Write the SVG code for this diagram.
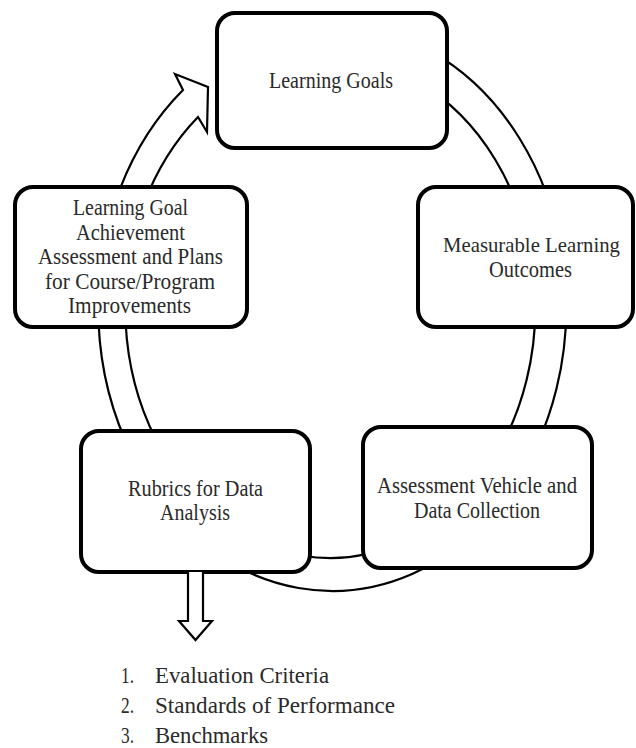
<svg xmlns="http://www.w3.org/2000/svg" width="636" height="748" viewBox="0 0 636 748">
<style>
.box{fill:#fff;stroke:#000;stroke-width:4}
.ring{fill:#fff;stroke:#000;stroke-width:2.2;stroke-linejoin:miter}
.lbl{font-family:"Liberation Serif","Times New Roman",serif;font-size:24px;fill:#2a2a2a}
</style>
<rect width="636" height="748" fill="#fff"/>
<g id="connectors">
<path class="ring" d="M 331 25 A 234 283 0 1 1 183 90 L 175 74 L 208 87 L 207 132 L 198 117 A 205 250 0 1 0 331 58 Z"/>
</g>
<g id="node-learning-goals">
<rect class="box" x="217" y="13" width="230" height="135" rx="18"/>
<text class="lbl" x="269" y="88" textLength="124" lengthAdjust="spacingAndGlyphs">Learning Goals</text>
</g>
<g id="node-measurable-outcomes">
<rect class="box" x="418" y="187" width="215" height="140" rx="18"/>
<text class="lbl" x="443" y="252" style="font-size:22px" textLength="177" lengthAdjust="spacingAndGlyphs">Measurable Learning</text>
<text class="lbl" x="489" y="277" textLength="83" lengthAdjust="spacingAndGlyphs">Outcomes</text>
</g>
<g id="node-assessment-vehicle">
<rect class="box" x="363" y="427" width="229" height="141" rx="18"/>
<text class="lbl" x="377" y="493" textLength="200" lengthAdjust="spacingAndGlyphs">Assessment Vehicle and</text>
<text class="lbl" x="414" y="518" textLength="126" lengthAdjust="spacingAndGlyphs">Data Collection</text>
</g>
<g id="node-rubrics">
<rect class="box" x="81" y="431" width="229" height="141" rx="18"/>
<text class="lbl" x="128" y="496" textLength="135" lengthAdjust="spacingAndGlyphs">Rubrics for Data</text>
<text class="lbl" x="160" y="520" textLength="70" lengthAdjust="spacingAndGlyphs">Analysis</text>
</g>
<g id="node-goal-achievement">
<rect class="box" x="15" y="187" width="232" height="140" rx="18"/>
<text class="lbl" x="73" y="215" textLength="115" lengthAdjust="spacingAndGlyphs">Learning Goal</text>
<text class="lbl" x="76" y="239.5" textLength="109" lengthAdjust="spacingAndGlyphs">Achievement</text>
<text class="lbl" x="38" y="264" textLength="185" lengthAdjust="spacingAndGlyphs">Assessment and Plans</text>
<text class="lbl" x="45" y="288.5" textLength="170" lengthAdjust="spacingAndGlyphs">for Course/Program</text>
<text class="lbl" x="68" y="313" textLength="123" lengthAdjust="spacingAndGlyphs">Improvements</text>
</g>
<g id="down-arrow">
<path class="ring" d="M 188 572 L 188 621 L 179 621 L 195.5 640 L 212 621 L 203 621 L 203 572"/>
</g>
<g id="node-list">
<text class="lbl" x="121" y="683" textLength="13" lengthAdjust="spacingAndGlyphs">1.</text>
<text class="lbl" x="155" y="683" textLength="174" lengthAdjust="spacingAndGlyphs">Evaluation Criteria</text>
<text class="lbl" x="121" y="713" textLength="13" lengthAdjust="spacingAndGlyphs">2.</text>
<text class="lbl" x="155" y="713" textLength="240" lengthAdjust="spacingAndGlyphs">Standards of Performance</text>
<text class="lbl" x="121" y="743" textLength="13" lengthAdjust="spacingAndGlyphs">3.</text>
<text class="lbl" x="155" y="743" textLength="113" lengthAdjust="spacingAndGlyphs">Benchmarks</text>
</g>
</svg>
